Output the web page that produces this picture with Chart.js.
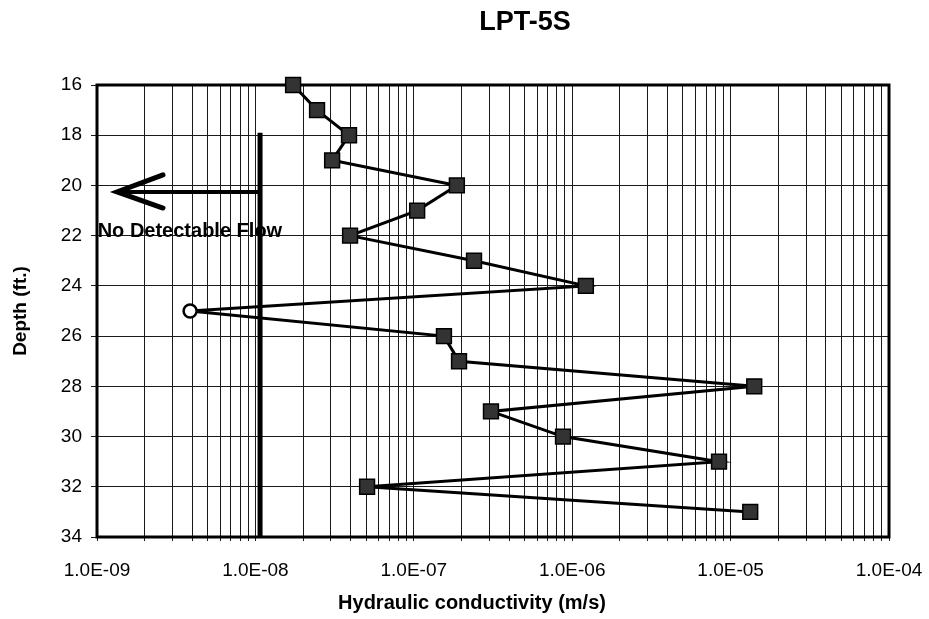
<!DOCTYPE html>
<html>
<head>
<meta charset="utf-8">
<script src="https://cdn.jsdelivr.net/npm/chart.js@4.4.0/dist/chart.umd.min.js"></script>
<style>
  html, body { margin: 0; padding: 0; background: #fff; }
  canvas { display: block; }
</style>
</head>
<body>
<canvas id="lptChart" width="929" height="619"></canvas>
<script>
// depth (ft) vs hydraulic conductivity (m/s)
const depths = [16, 17, 18, 19, 20, 21, 22, 23, 24, 25, 26, 27, 28, 29, 30, 31, 32, 33];
const conductivity = [1.73e-8, 2.45e-8, 3.90e-8, 3.05e-8, 1.87e-7, 1.05e-7, 3.96e-8, 2.40e-7, 1.22e-6,
                      3.87e-9, 1.55e-7, 1.93e-7, 1.41e-5, 3.07e-7, 8.75e-7, 8.45e-6, 5.07e-8, 1.33e-5];
// 25 ft had no detectable flow -> open circle
const noFlowDepth = 25;

// detection limit line and arrow
const limitK = 1.07e-8;
const limitDepths = [17.9, 34];
const arrowDepth = 20.26;
const arrowTipK = 1.34e-9;
const arrowHeadK = 2.61e-9;
const arrowHeadDepths = [19.58, 20.9];
const noFlowLabel = 'No Detectable Flow';

const decades = [1e-9, 1e-8, 1e-7, 1e-6, 1e-5, 1e-4];
const xTickLabels = ['1.0E-09', '1.0E-08', '1.0E-07', '1.0E-06', '1.0E-05', '1.0E-04'];

Chart.defaults.font.family = "'Liberation Sans', Arial, sans-serif";
Chart.defaults.color = '#000';

const FONT = "'Liberation Sans', Arial, sans-serif";

const decorPlugin = {
    id: 'decor',
    beforeDatasetsDraw(chart) {
        const {ctx, chartArea: a} = chart;
        ctx.save();
        ctx.lineWidth = 3;
        ctx.strokeStyle = '#000';
        ctx.strokeRect(a.left, a.top, a.right - a.left, a.bottom - a.top);
        ctx.restore();
    },
    afterDraw(chart) {
        const {ctx} = chart;
        const xs = chart.scales.x, ys = chart.scales.y;
        ctx.save();
        ctx.fillStyle = '#000';
        ctx.textAlign = 'center';
        ctx.textBaseline = 'middle';
        // label under the arrow
        ctx.font = 'bold 20px ' + FONT;
        ctx.fillText(noFlowLabel, xs.getPixelForValue(3.86e-9), ys.getPixelForValue(21.85));
        // chart title
        ctx.font = 'bold 27px ' + FONT;
        ctx.fillText('LPT-5S', 525, 23);
        // x axis title
        ctx.font = 'bold 20px ' + FONT;
        ctx.fillText('Hydraulic conductivity (m/s)', 472, 603);
        ctx.restore();
    }
};

const mainPoints = depths.map((d, i) => ({x: conductivity[i], y: d}));
const isOpen = depths.map(d => d === noFlowDepth);

new Chart(document.getElementById('lptChart').getContext('2d'), {
    type: 'scatter',
    data: {
        datasets: [{
            data: mainPoints,
            showLine: true,
            borderColor: '#000',
            borderWidth: 3,
            pointStyle: isOpen.map(o => o ? 'circle' : 'rect'),
            pointRadius: isOpen.map(o => o ? 6.5 : 10.5),
            pointBackgroundColor: isOpen.map(o => o ? '#fff' : '#333'),
            pointBorderColor: '#000',
            pointBorderWidth: isOpen.map(o => o ? 2.5 : 1.5),
            clip: false
        }, {
            // detection limit
            data: limitDepths.map(d => ({x: limitK, y: d})),
            showLine: true,
            borderColor: '#000',
            borderWidth: 5,
            pointRadius: 0
        }, {
            // arrow shaft
            data: [{x: limitK, y: arrowDepth}, {x: arrowTipK, y: arrowDepth}],
            showLine: true,
            borderColor: '#000',
            borderWidth: 4,
            pointRadius: 0
        }, {
            // arrow head
            data: [{x: arrowHeadK, y: arrowHeadDepths[0]}, {x: arrowTipK, y: arrowDepth}, {x: arrowHeadK, y: arrowHeadDepths[1]}],
            showLine: true,
            borderColor: '#000',
            borderWidth: 5,
            borderCapStyle: 'round',
            pointRadius: 0
        }]
    },
    options: {
        responsive: false,
        animation: false,
        devicePixelRatio: 1,
        layout: { padding: { top: 85, right: 40, bottom: 0, left: 0 } },
        plugins: {
            legend: { display: false },
            tooltip: { enabled: false }
        },
        scales: {
            x: {
                type: 'logarithmic',
                position: 'bottom',
                min: 1e-9,
                max: 1e-4,
                afterBuildTicks(scale) {
                    const t = [];
                    decades.forEach((d, i) => {
                        if (i === decades.length - 1) { t.push({value: d}); return; }
                        for (let k = 1; k < 10; k++) t.push({value: k * d});
                    });
                    scale.ticks = t;
                },
                afterFit(scale) {
                    scale.height = 82;
                    scale.paddingLeft = 0;
                    scale.paddingRight = 0;
                },
                grid: { color: '#1a1a1a', lineWidth: 1, tickLength: 4 },
                border: { display: false },
                ticks: {
                    autoSkip: false,
                    maxRotation: 0,
                    padding: 18,
                    font: { size: 19 },
                    callback(value) {
                        const i = decades.findIndex(d => Math.abs(value / d - 1) < 1e-6);
                        return i >= 0 ? xTickLabels[i] : '';
                    }
                }
            },
            y: {
                type: 'linear',
                reverse: true,
                min: 16,
                max: 34,
                afterFit(scale) { scale.width = 97; },
                grid: { color: '#1a1a1a', lineWidth: 1, tickLength: 6 },
                border: { display: false },
                ticks: { stepSize: 2, padding: 9, font: { size: 19 } },
                title: {
                    display: true,
                    text: 'Depth (ft.)',
                    font: { size: 19, weight: 'bold' },
                    padding: { top: 9, bottom: 0 }
                }
            }
        }
    },
    plugins: [decorPlugin]
});
</script>
</body>
</html>
